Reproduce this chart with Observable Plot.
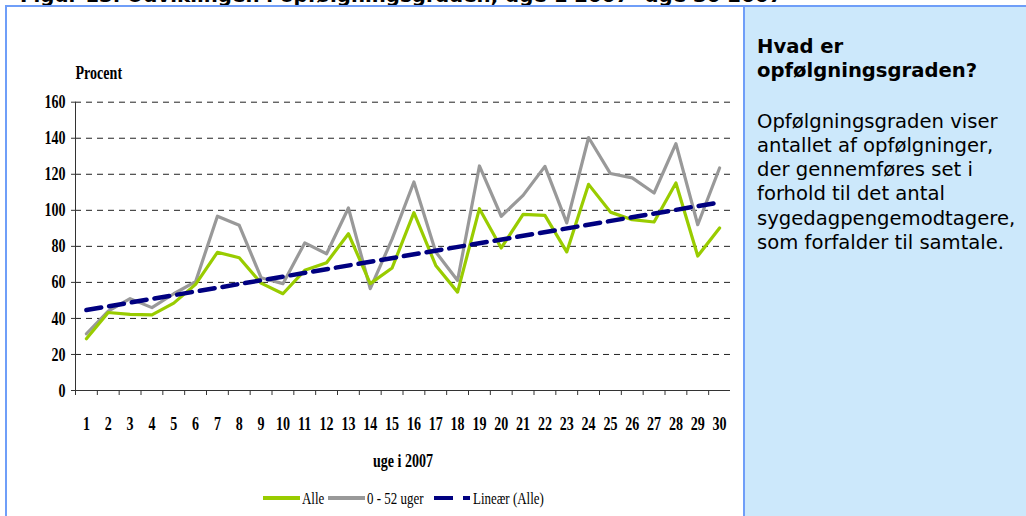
<!DOCTYPE html>
<html><head><meta charset="utf-8">
<script src="https://cdn.jsdelivr.net/npm/d3@7"></script>
<script src="https://cdn.jsdelivr.net/npm/@observablehq/plot@0.6"></script>
<style>
html,body{margin:0;padding:0;background:#fff;}
#wrap{position:relative;width:1026px;height:516px;overflow:hidden;background:#fff;}
#title{position:absolute;left:20px;top:-14px;font:bold 19.8px "DejaVu Sans";white-space:nowrap;color:#000;line-height:20px;}
#frameL{position:absolute;left:5px;top:5px;width:2px;height:511px;background:#6f9ef8;}
#frameT{position:absolute;left:5px;top:5px;width:1021px;height:2px;background:#6f9ef8;}
#panel{position:absolute;left:743px;top:5px;width:283px;height:511px;background:#cce8fb;border-left:2px solid #6f9ef8;border-top:2px solid #6f9ef8;box-sizing:border-box;padding:28px 0 0 12px;font-family:"DejaVu Sans";font-size:19.6px;line-height:24.3px;color:#000;}
#panel .h{font-weight:bold;}
#panel .b{margin-top:26px;}
#chart{position:absolute;left:0;top:0;}
#legend{position:absolute;left:0;top:488px;width:740px;height:20px;font-family:"Liberation Serif";font-size:17.5px;color:#000;white-space:nowrap;}
#legend .sw{position:absolute;top:8px;height:4px;}
#legend .lb{position:absolute;top:0;line-height:20px;transform:scaleX(0.74);transform-origin:0 50%;}
</style>
</head><body>
<div id="wrap">
  <div id="title">Figur 13. Udviklingen i opfølgningsgraden, uge 1 2007- uge 30 2007</div>
  <div id="frameL"></div>
  <div id="frameT"></div>
  <div id="chart"></div>
  <div id="legend"></div>
  <div id="panel">
    <div class="h">Hvad er<br>opfølgningsgraden?</div>
    <div class="b">Opfølgningsgraden viser<br>antallet af opfølgninger,<br>der gennemføres set i<br>forhold til det antal<br>sygedagpengemodtagere,<br>som forfalder til samtale.</div>
  </div>
</div>
<script>
const weeks = [1,2,3,4,5,6,7,8,9,10,11,12,13,14,15,16,17,18,19,20,21,22,23,24,25,26,27,28,29,30];
const alle = [28.7,43.3,42.2,42.0,48.5,58.9,76.7,73.7,59.6,53.7,66.7,70.9,87.0,59.3,68.0,98.7,69.4,54.6,100.9,79.1,97.8,97.2,76.9,114.4,99.0,94.8,93.5,115.2,74.6,90.2];
const uger052 = [31.5,44.0,51.0,46.0,53.7,60.4,96.7,91.7,62.6,59.3,81.9,75.9,101.3,56.5,84.0,115.7,76.9,61.1,124.6,96.7,108.3,124.4,93.0,140.4,120.4,118.0,109.6,137.0,92.0,123.5];
const yTicks = [0,20,40,60,80,100,120,140,160];
const gridValues = [20,40,60,80,100,120,140,160];
const tickBoundaries = [0.5,1.5,2.5,3.5,4.5,5.5,6.5,7.5,8.5,9.5,10.5,11.5,12.5,13.5,14.5,15.5,16.5,17.5,18.5,19.5,20.5,21.5,22.5,23.5,24.5,25.5,26.5,27.5,28.5,29.5];
const seriesNames = ["Alle", "0 - 52 uger", "Lineær (Alle)"];
const colors = {alle: "#99CC00", uger: "#999999", trend: "#000080"};

const data = weeks.map((w, i) => ({week: w, alle: alle[i], uger: uger052[i]}));

const chart = Plot.plot({
  width: 740,
  height: 475,
  marginLeft: 75,
  marginRight: 10,
  marginTop: 101.7,
  marginBottom: 85,
  x: {domain: [0.5, 30.5]},
  y: {domain: [0, 160]},
  style: {fontFamily: "Liberation Serif", fontSize: "19px", fontWeight: "bold", color: "#000", background: "transparent", overflow: "visible"},
  marks: [
    Plot.ruleY(gridValues, {stroke: "#222", strokeDasharray: "6,5", strokeWidth: 1}),
    Plot.ruleY([0], {stroke: "#333", strokeWidth: 1}),
    Plot.ruleX([0.5], {stroke: "#333", strokeWidth: 1}),
    Plot.axisY({ticks: yTicks, tickSize: 4, tickPadding: 6, stroke: "#333", label: null}),
    Plot.axisX({ticks: weeks, tickSize: 0, tickPadding: 26, label: null}),
    Plot.axisX({ticks: tickBoundaries, tickSize: 5, tickFormat: () => "", stroke: "#333", label: null}),
    Plot.line(data, {x: "week", y: "uger", stroke: colors.uger, strokeWidth: 3.2}),
    Plot.line(data, {x: "week", y: "alle", stroke: colors.alle, strokeWidth: 3.2}),
    Plot.linearRegressionY(data, {x: "week", y: "alle", stroke: colors.trend, strokeWidth: 4.5, strokeDasharray: "15,8", ci: 0}),
    Plot.text(["Procent"], {frameAnchor: "top-left", lineAnchor: "middle", dy: -29, text: d => d}),
    Plot.text(["uge i 2007"], {frameAnchor: "bottom", lineAnchor: "middle", dy: 70, text: d => d})
  ]
});
// condense the serif labels horizontally, as in the reference
chart.querySelectorAll("text").forEach(t => {
  if (!t.textContent) return;
  const tr = t.getAttribute("transform");
  if (tr && tr.includes("translate")) {
    t.setAttribute("transform", tr + " scale(0.74,1)");
  } else {
    const x = +(t.getAttribute("x") || 0), y = +(t.getAttribute("y") || 0);
    t.removeAttribute("x"); t.removeAttribute("y");
    t.setAttribute("transform", (tr ? tr + " " : "") + `translate(${x},${y}) scale(0.74,1)`);
  }
});
document.getElementById("chart").appendChild(chart);

const legend = document.getElementById("legend");
function sw(color, x, w) {
  const s = document.createElement("span");
  s.className = "sw";
  s.style.background = color; s.style.left = x + "px"; s.style.width = w + "px";
  legend.appendChild(s);
}
function lab(t, x) { const s = document.createElement("span"); s.className = "lb"; s.style.left = x + "px"; s.textContent = t; legend.appendChild(s); }
sw(colors.alle, 263, 37); lab(seriesNames[0], 302);
sw(colors.uger, 328, 37); lab(seriesNames[1], 367);
sw(colors.trend, 434, 19); sw(colors.trend, 463, 7); lab(seriesNames[2], 473);
</script>
</body></html>
